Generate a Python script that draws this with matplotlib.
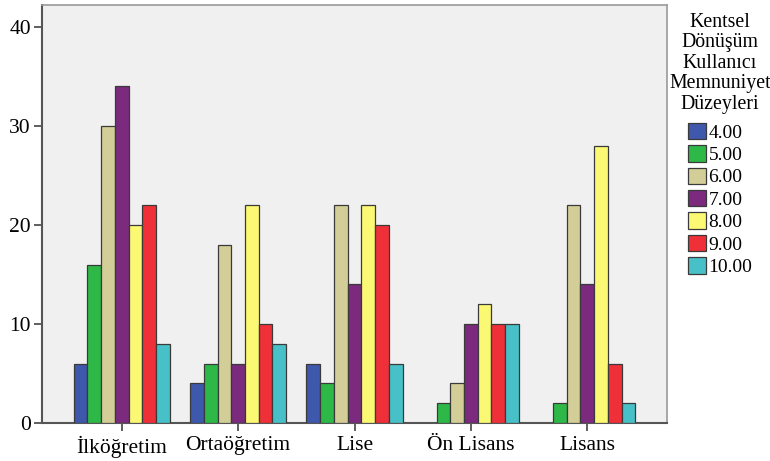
import matplotlib
matplotlib.use("Agg")
import matplotlib.pyplot as plt
import matplotlib.patches as mpatches
import numpy as np

categories = ["İlköğretim", "Ortaöğretim", "Lise", "Ön Lisans", "Lisans"]
series_labels = ["4.00", "5.00", "6.00", "7.00", "8.00", "9.00", "10.00"]
values = {
    "4.00": [6, 4, 6, 0, 0],
    "5.00": [16, 6, 4, 2, 2],
    "6.00": [30, 18, 22, 4, 22],
    "7.00": [34, 6, 14, 10, 14],
    "8.00": [20, 22, 22, 12, 28],
    "9.00": [22, 10, 20, 10, 6],
    "10.00": [8, 8, 6, 10, 2],
}
colors = ["#3E58AC", "#2EB848", "#D3CE97", "#7B2A7E", "#FBF873", "#EF3038", "#48C0C8"]
legend_title = "Kentsel\nDönüşüm\nKullanıcı\nMemnuniyet\nDüzeyleri"

plt.rcParams['font.family'] = ['Liberation Serif', 'DejaVu Serif']

fig = plt.figure(figsize=(7.7, 4.61), dpi=100)
ax = fig.add_axes([42/770, 1 - 423/461, (667-42)/770, (423-5)/461])
ax.set_facecolor("#F0F0F0")

x = np.arange(len(categories))
w = 0.118
n = len(series_labels)
for i, lab in enumerate(series_labels):
    vals = np.array(values[lab], dtype=float)
    pos = x + (i - (n - 1) / 2) * w
    bars = ax.bar(pos, vals, width=w, color=colors[i], edgecolor="#3A3A3A",
                  linewidth=0.9, label=lab, zorder=3)
    for b, v in zip(bars, vals):
        if v == 0:
            b.set_visible(False)

ax.set_xlim(-0.685, 4.685)
ax.set_ylim(0, 42.2)
ax.set_yticks([0, 10, 20, 30, 40])
ax.set_xticks(x)
ax.set_xticklabels(categories)
ax.tick_params(axis='both', direction='out', length=6, width=1.2, color="#444444",
               labelsize=15.5, colors="black")
ax.tick_params(axis='x', pad=3)
ax.tick_params(axis='y', pad=2)
for sp in ["left", "bottom"]:
    ax.spines[sp].set_color("#555555")
    ax.spines[sp].set_linewidth(1.5)
for sp in ["top", "right"]:
    ax.spines[sp].set_color("#999999")
    ax.spines[sp].set_linewidth(1.2)

fig.text(720/770, 1 - 13/461, legend_title, ha="center", va="top",
         multialignment="center", fontsize=14.3, linespacing=1.1)

phandles = [mpatches.Patch(facecolor=c, edgecolor="#3A3A3A", linewidth=0.9) for c in colors]
leg = fig.legend(phandles, series_labels, loc="upper center",
                 bbox_to_anchor=(720/770, 1 - 109/461), frameon=False,
                 fontsize=14, handlelength=0.93, handleheight=0.93,
                 handletextpad=0.15, labelspacing=0.18, borderpad=0.2)

fig.savefig("out.png", dpi=100)
